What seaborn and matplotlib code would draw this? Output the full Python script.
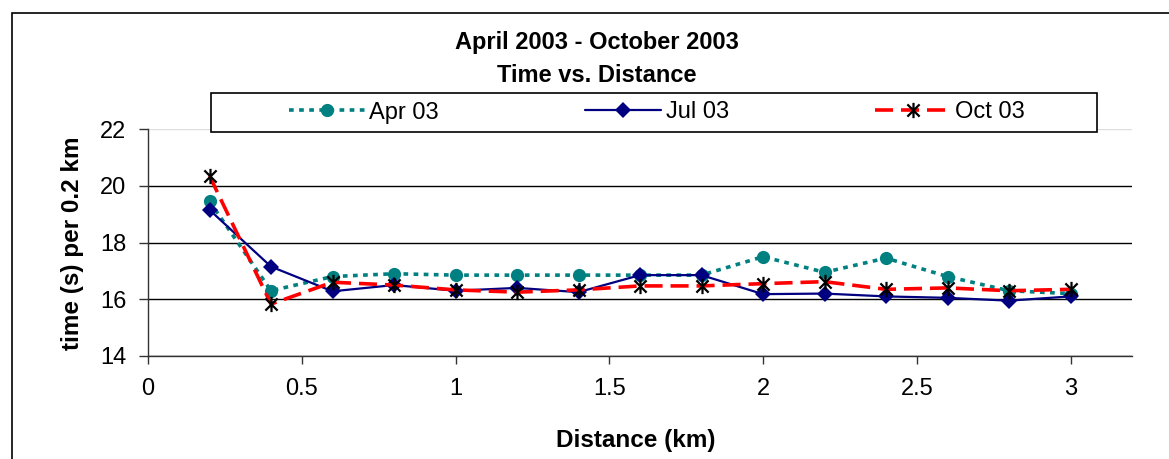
import matplotlib
matplotlib.use("Agg")
import matplotlib.pyplot as plt
import seaborn as sns
import pandas as pd
from matplotlib.path import Path
from matplotlib.patches import Rectangle

# data
distance = [0.2, 0.4, 0.6, 0.8, 1.0, 1.2, 1.4, 1.6, 1.8, 2.0, 2.2, 2.4, 2.6, 2.8, 3.0]
apr_03 = [19.45, 16.3, 16.8, 16.9, 16.85, 16.85, 16.85, 16.85, 16.85, 17.5, 16.95, 17.45, 16.8, 16.3, 16.2]
jul_03 = [19.15, 17.15, 16.28, 16.5, 16.3, 16.4, 16.25, 16.85, 16.85, 16.18, 16.2, 16.1, 16.05, 15.95, 16.1]
oct_03 = [20.35, 15.83, 16.6, 16.5, 16.33, 16.25, 16.33, 16.47, 16.47, 16.55, 16.62, 16.35, 16.4, 16.3, 16.35]
x_ticks = [0, 0.5, 1, 1.5, 2, 2.5, 3]
y_ticks = [14, 16, 18, 20, 22]

df = pd.DataFrame({"distance": distance, "Apr 03": apr_03, "Jul 03": jul_03, "Oct 03": oct_03})

sns.set_theme(style="white")
plt.rcParams["font.family"] = ["Liberation Sans", "DejaVu Sans"]
plt.rcParams["text.color"] = "black"
plt.rcParams["xtick.labelcolor"] = "black"
plt.rcParams["ytick.labelcolor"] = "black"

W, H = 1169, 459
fig = plt.figure(figsize=(W / 100, H / 100), dpi=100)
ax = fig.add_axes([148 / W, 1 - 356 / H, (1132 - 148) / W, (356 - 129) / H])

# Excel style asterisk marker: X plus a vertical bar
asterisk = Path(
    [(-1, -1), (1, 1), (-1, 1), (1, -1), (0, -1.25), (0, 1.25)],
    [Path.MOVETO, Path.LINETO, Path.MOVETO, Path.LINETO, Path.MOVETO, Path.LINETO],
)

sns.lineplot(data=df, x="distance", y="Apr 03", ax=ax, color="#008080", lw=2.6,
             linestyle=(0, (1.3, 1.5)), marker="o", markersize=9.5,
             markeredgecolor="#008080", markeredgewidth=0, label="Apr 03", legend=False)
sns.lineplot(data=df, x="distance", y="Jul 03", ax=ax, color="#000080", lw=1.6,
             marker="D", markersize=8.5, markeredgecolor="#000080",
             markeredgewidth=0, label="Jul 03", legend=False)
sns.lineplot(data=df, x="distance", y="Oct 03", ax=ax, color="#FF0000", lw=2.6,
             linestyle=(0, (5, 2.2)), marker=asterisk, markersize=11,
             markeredgecolor="black", markerfacecolor="none", markeredgewidth=1.6,
             label="Oct 03", legend=False)

ax.set_xlim(0, 3.2)
ax.set_ylim(14, 22)
ax.set_xticks(x_ticks)
ax.set_xticklabels(["0", "0.5", "1", "1.5", "2", "2.5", "3"])
ax.set_yticks(y_ticks)
ax.set_xlabel("")
ax.set_ylabel("")

ax.grid(axis="y", color="black", lw=1)
ax.grid(axis="x", visible=False)
ax.get_ygridlines()[-1].set_color("#dddddd")
ax.set_axisbelow(True)

for s in ["top", "right"]:
    ax.spines[s].set_visible(False)
for s in ["left", "bottom"]:
    ax.spines[s].set_color("#333333")
    ax.spines[s].set_linewidth(1)

ax.tick_params(axis="x", bottom=True, direction="out", length=6, width=1,
               color="#333333", labelsize=17, pad=10)
ax.tick_params(axis="y", left=True, direction="out", length=6.5, width=1,
               color="#333333", labelsize=17, pad=9)

# titles and axis labels
fig.text(597 / W, 1 - 43 / H, "April 2003 - October 2003", ha="center", va="center",
         fontsize=17, fontweight="bold")
fig.text(597 / W, 1 - 75 / H, "Time vs. Distance", ha="center", va="center",
         fontsize=17, fontweight="bold")
fig.text(73 / W, 1 - 243 / H, "time (s) per 0.2 km", rotation=90, ha="center",
         va="center", fontsize=17.5, fontweight="bold")
fig.text(636 / W, 1 - 441 / H, "Distance (km)", ha="center", va="center",
         fontsize=17.5, fontweight="bold")

# legend box and legend
fig.add_artist(Rectangle((211 / W, 1 - 132 / H), (1097 - 211) / W, 39 / H,
                         transform=fig.transFigure, facecolor="white",
                         edgecolor="black", lw=1.2, zorder=3))
handles, labels = ax.get_legend_handles_labels()
fig.legend(handles, labels, loc="center", bbox_to_anchor=(657 / W, 1 - 112.5 / H),
           ncol=3, frameon=False, fontsize=17, handlelength=3.2,
           handletextpad=0.2, columnspacing=6.2, borderpad=0)

# outer chart border
fig.add_artist(Rectangle((11.5 / W, -0.5), 2, 1.5 - 12.5 / H,
                         transform=fig.transFigure, fill=False,
                         edgecolor="black", lw=1.2))

fig.savefig("out.png", dpi=100)
